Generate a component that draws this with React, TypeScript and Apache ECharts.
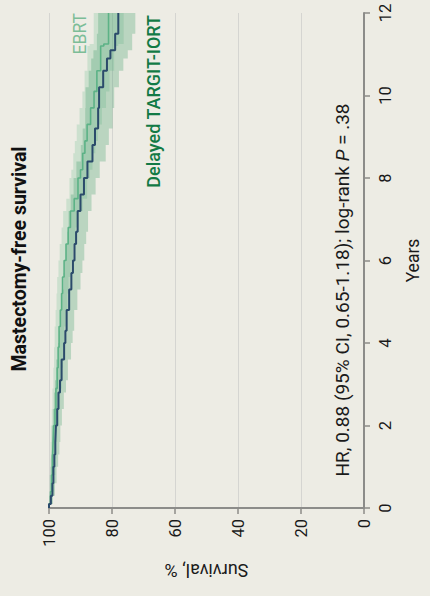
import React, { useEffect, useRef } from 'react';
import * as echarts from 'echarts';

const survivalTicks = [0, 20, 40, 60, 80, 100];
const yearTicks = [0, 2, 4, 6, 8, 10, 12];

const targitYears = [0, 0.1, 0.3, 0.6, 1.0, 1.3, 1.6, 2.0, 2.4, 2.8, 3.1, 3.6, 4.0, 4.3, 4.8, 5.3, 5.7, 6.0, 6.4, 6.7, 7.2, 7.6, 8.0, 8.4, 8.8, 9.2, 9.7, 10.2, 10.6, 10.9, 11.1, 11.5, 12];
const targitSurvival = [100, 99.4, 98.9, 98.6, 98.3, 98.0, 97.8, 97.4, 97.0, 96.5, 96.0, 95.2, 94.8, 94.4, 93.6, 92.9, 92.4, 91.9, 91.4, 90.9, 90.0, 88.9, 87.8, 86.2, 85.4, 84.4, 84.1, 82.8, 81.6, 80.5, 79.0, 78.0, 78.0];
const targitUpper = [100, 99.9, 99.6, 99.5, 99.3, 99.1, 99.0, 98.7, 98.4, 98.1, 97.7, 97.1, 96.8, 96.5, 95.9, 95.4, 95.0, 94.6, 94.2, 93.8, 93.1, 92.2, 91.3, 89.9, 89.3, 88.5, 88.4, 87.4, 86.6, 85.9, 84.8, 84.4, 84.4];
const targitLower = [100, 98.8, 98.1, 97.6, 97.1, 96.7, 96.4, 95.9, 95.3, 94.6, 94.0, 93.0, 92.5, 92.0, 91.0, 90.0, 89.4, 88.8, 88.2, 87.6, 86.5, 85.2, 83.9, 82.0, 81.0, 79.8, 79.3, 77.8, 76.4, 75.0, 73.6, 72.6, 72.6];

const ebrtYears = [0, 0.1, 0.4, 0.8, 1.2, 1.6, 2.0, 2.4, 2.9, 3.4, 3.9, 4.4, 4.8, 5.2, 5.6, 6.0, 6.4, 6.8, 7.2, 7.5, 8.0, 8.2, 8.6, 8.9, 9.3, 9.7, 10.1, 10.6, 11.2, 11.25, 12];
const ebrtSurvival = [100, 99.5, 99.2, 98.9, 98.7, 98.5, 98.1, 97.8, 97.4, 97.1, 96.8, 96.4, 96.0, 95.7, 95.2, 94.6, 93.9, 93.2, 92.0, 90.8, 90.0, 89.3, 88.6, 87.9, 86.8, 85.7, 84.8, 83.6, 82.6, 81.1, 81.1];
const ebrtUpper = [100, 99.9, 99.8, 99.6, 99.5, 99.4, 99.1, 98.9, 98.6, 98.4, 98.2, 97.9, 97.6, 97.4, 97.0, 96.6, 96.0, 95.5, 94.5, 93.5, 92.9, 92.3, 91.8, 91.2, 90.3, 89.4, 88.7, 87.8, 87.1, 85.8, 85.8];
const ebrtLower = [100, 98.9, 98.4, 98.0, 97.7, 97.4, 96.9, 96.5, 96.0, 95.6, 95.2, 94.7, 94.2, 93.8, 93.2, 92.4, 91.6, 90.7, 89.3, 87.9, 87.0, 86.2, 85.3, 84.5, 83.2, 81.9, 80.8, 79.3, 78.0, 76.3, 76.3];

const FONT = 'Roboto, "Noto Sans", sans-serif';
const BG = '#edece4';

function bandRenderer(years: number[], lower: number[], upper: number[], fill: string) {
  return (params: any, api: any) => {
    const pts: number[][] = [];
    const n = years.length;
    for (let i = 0; i < n; i++) {
      const tNext = i < n - 1 ? years[i + 1] : years[i];
      pts.push(api.coord([upper[i], years[i]]));
      pts.push(api.coord([upper[i], tNext]));
    }
    for (let i = n - 1; i >= 0; i--) {
      const tNext = i < n - 1 ? years[i + 1] : years[i];
      pts.push(api.coord([lower[i], tNext]));
      pts.push(api.coord([lower[i], years[i]]));
    }
    return { type: 'polygon', shape: { points: pts }, style: { fill } };
  };
}

export default function App() {
  const ref = useRef<HTMLDivElement>(null);
  useEffect(() => {
    document.body.style.margin = '0';
    document.body.style.background = BG;
    const chart = echarts.init(ref.current!, undefined, { renderer: 'svg' });
    chart.setOption({
      animation: false,
      backgroundColor: BG,
      grid: { left: 49, right: 58, top: 13, bottom: 88, containLabel: false },
      xAxis: {
        type: 'value',
        min: survivalTicks[0],
        max: survivalTicks[survivalTicks.length - 1],
        interval: 20,
        inverse: true,
        position: 'bottom',
        name: 'Survival, %',
        nameLocation: 'middle',
        nameRotate: 180,
        nameGap: 53,
        nameTextStyle: { fontFamily: FONT, fontSize: 18, color: '#1a1a1a' },
        axisLine: { show: true, lineStyle: { color: '#8c8c89', width: 2 } },
        axisTick: { show: true, length: 6, lineStyle: { color: '#8c8c89', width: 1.5 } },
        axisLabel: { rotate: 90, margin: 11, fontFamily: FONT, fontSize: 16.5, color: '#1a1a1a' },
        splitLine: { show: true, lineStyle: { color: '#d5d5d1', width: 1 } },
      },
      yAxis: {
        type: 'value',
        min: yearTicks[0],
        max: yearTicks[yearTicks.length - 1],
        interval: 2,
        position: 'right',
        name: 'Years',
        nameLocation: 'middle',
        nameRotate: 90,
        nameGap: 40,
        nameTextStyle: { fontFamily: FONT, fontSize: 17.5, color: '#1a1a1a' },
        axisLine: { show: true, lineStyle: { color: '#8c8c89', width: 2 } },
        axisTick: { show: true, length: 6, lineStyle: { color: '#8c8c89', width: 1.5 } },
        axisLabel: { rotate: 90, margin: 13, fontFamily: FONT, fontSize: 16.5, color: '#1a1a1a' },
        splitLine: { show: false },
      },
      series: [
        {
          type: 'custom',
          silent: true,
          data: [[0, 0]],
          renderItem: bandRenderer(ebrtYears, ebrtLower, ebrtUpper, 'rgba(130,195,155,0.30)'),
          z: 1,
        },
        {
          type: 'custom',
          silent: true,
          data: [[0, 0]],
          renderItem: bandRenderer(targitYears, targitLower, targitUpper, 'rgba(70,160,110,0.30)'),
          z: 2,
        },
        {
          type: 'line',
          name: 'EBRT',
          step: 'start',
          showSymbol: false,
          data: ebrtYears.map((t, i) => [ebrtSurvival[i], t]),
          lineStyle: { color: '#5cb286', width: 1.6 },
          z: 3,
        },
        {
          type: 'line',
          name: 'Delayed TARGIT-IORT',
          step: 'start',
          showSymbol: false,
          data: targitYears.map((t, i) => [targitSurvival[i], t]),
          lineStyle: { color: '#2b4b6b', width: 2 },
          z: 4,
        },
      ],
      graphic: [
        {
          type: 'text', x: 19, y: 259, rotation: Math.PI / 2,
          style: { text: 'Mastectomy-free survival', fontFamily: FONT, fontSize: 19.5, fontWeight: 'bold', fill: '#111', align: 'center', verticalAlign: 'middle' },
        },
        {
          type: 'text', x: 80, y: 13, rotation: Math.PI / 2,
          style: { text: 'EBRT', fontFamily: FONT, fontSize: 17.5, fill: '#7cbd97', align: 'right', verticalAlign: 'middle' },
        },
        {
          type: 'text', x: 153, y: 15, rotation: Math.PI / 2,
          style: { text: 'Delayed TARGIT-IORT', fontFamily: FONT, fontSize: 18, fontWeight: 500, fill: '#127a45', align: 'right', verticalAlign: 'middle' },
        },
        {
          type: 'text', x: 342, y: 290, rotation: Math.PI / 2,
          style: {
            text: 'HR, 0.88 (95% CI, 0.65-1.18); log-rank {i|P} = .38',
            fontFamily: FONT, fontSize: 19, fill: '#1a1a1a', align: 'center', verticalAlign: 'middle',
            rich: { i: { fontStyle: 'italic', fontFamily: FONT, fontSize: 19, fill: '#1a1a1a' } },
          },
        },
      ],
    });
    return () => chart.dispose();
  }, []);
  return <div ref={ref} style={{ position: 'fixed', left: 0, top: 0, width: 430, height: 596 }} />;
}
